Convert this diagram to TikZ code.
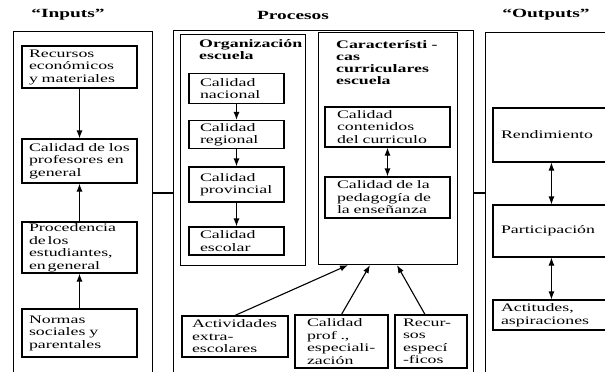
\documentclass[tikz,border=0pt]{standalone}
\usepackage{fontspec}
\setmainfont[FakeStretch=1.55]{Liberation Serif}
\usetikzlibrary{arrows.meta}
\begin{document}
\begin{tikzpicture}[x=1pt, y=-1pt,
    caja/.style = {draw, line width=1.1pt, align=left, inner xsep=1pt, inner ysep=1pt,
                   font=\fontsize{11.5}{12.5}\selectfont},
    marco/.style = {draw, line width=1.1pt, anchor=north west, inner sep=0pt},
    titulo/.style = {font=\bfseries\fontsize{12.5}{14}\selectfont},
    subtitulo/.style = {font=\bfseries\fontsize{11.5}{12}\selectfont, align=left,
                        anchor=north west, inner sep=0pt},
    flecha/.style = {-{Latex[length=8pt,width=6pt]}, line width=1.1pt},
    doble/.style = {{Latex[length=8pt,width=6pt]}-{Latex[length=8pt,width=6pt]}, line width=1.1pt}]

  \useasboundingbox (0,0) rectangle (605,372);
  \clip (0,0) rectangle (605,372);

  % titulos
  \node [titulo] (tin)   at (68,15)  {“Inputs”};
  \node [titulo] (tproc) at (293,15) {Procesos};
  \node [titulo] (tout)  at (546,15) {“Outputs”};

  % marcos grandes
  \node [marco, minimum width=139, minimum height=360] (inputs)   at (13,31)  {};
  \node [marco, minimum width=300, minimum height=360] (procesos) at (173,30) {};
  \node [marco, minimum width=150, minimum height=360] (outputs)  at (485,32) {};

  \coordinate (medio) at (0,193);
  \draw [line width=1.1pt] (inputs.east |- medio) -- (procesos.west |- medio);
  \draw [line width=1.1pt] (procesos.east |- medio) -- (outputs.west |- medio);

  % inputs
  \node [caja, minimum width=115, minimum height=42, text width=101pt] (recursos) at (79.5,67)
        {Recursos\\económicos\\y materiales};
  \node [caja, minimum width=115, minimum height=44, text width=101pt] (calprof) at (79.5,161)
        {Calidad de los\\profesores en\\general};
  \node [caja, minimum width=115, minimum height=51, text width=101pt] (procedencia) at (79.5,247.5)
        {Procedencia\\de\,los\\estudiantes,\\en\,general};
  \node [caja, minimum width=115, minimum height=48, text width=101pt] (normas) at (79.5,333)
        {Normas\\sociales y\\parentales};

  \draw [flecha] (recursos) -- (calprof);
  \draw [flecha] (procedencia) -- (calprof);
  \draw [flecha] (normas) -- (procedencia);

  % procesos: organizacion
  \node [marco, minimum width=125, minimum height=231] (orgbox) at (180,34) {};
  \node [subtitulo] (orgtit) at (199,39) {Organización\\escuela};
  \node [caja, minimum width=95, minimum height=30, text width=73pt] (nacional) at (236.5,88.5)
        {Calidad\\nacional};
  \node [caja, minimum width=95, minimum height=28, text width=73pt] (regional) at (236.5,134.5)
        {Calidad\\regional};
  \node [caja, minimum width=95, minimum height=35, text width=73pt] (provincial) at (236.5,184.5)
        {Calidad\\provincial};
  \node [caja, minimum width=95, minimum height=28, text width=73pt] (escolar) at (236.5,241)
        {Calidad\\escolar};

  \draw [flecha] (nacional) -- (regional);
  \draw [flecha] (regional) -- (provincial);
  \draw [flecha] (provincial) -- (escolar);

  % procesos: caracteristicas curriculares
  \node [marco, minimum width=139, minimum height=232] (carbox) at (318,32) {};
  \node [subtitulo] (cartit) at (336,40) {Característi -\\cas\\curriculares\\escuela};
  \node [caja, minimum width=125, minimum height=40, text width=101pt] (contenidos) at (387.5,127)
        {Calidad\\contenidos\\del curriculo};
  \node [caja, minimum width=125, minimum height=41, text width=101pt] (pedagogia) at (387.5,197.5)
        {Calidad de la\\pedagogía de\\la enseñanza};

  \draw [doble] (contenidos) -- (pedagogia);

  % procesos: recursos abajo
  \node [caja, minimum width=106, minimum height=41, text width=86pt] (actividades) at (235,336.5)
        {Actividades\\extra-\\escolares};
  \node [caja, minimum width=93, minimum height=53, text width=69pt] (calprof2) at (341.5,341.5)
        {Calidad\\prof .,\\especiali-\\zación};
  \node [caja, minimum width=72, minimum height=53, text width=56pt] (recesp) at (431,341.5)
        {Recur-\\sos\\especí\\-ficos};

  \draw [flecha] (actividades.north) -- ([xshift=30pt]carbox.south west);
  \draw [flecha] (calprof2.north) -- ([xshift=52pt]carbox.south west);
  \draw [flecha] ([xshift=-6pt]recesp.north) -- ([xshift=79pt]carbox.south west);

  % outputs
  \node [caja, minimum width=147, minimum height=54, text width=131pt] (rendimiento) at (566.5,135)
        {Rendimiento};
  \node [caja, minimum width=147, minimum height=52, text width=131pt] (participacion) at (566.5,231)
        {Participación};
  \node [caja, minimum width=147, minimum height=30, text width=131pt] (actitudes) at (566.5,315)
        {Actitudes,\\aspiraciones};

  \draw [doble] ([xshift=59pt]rendimiento.south west) -- ([xshift=59pt]participacion.north west);
  \draw [doble] ([xshift=59pt]participacion.south west) -- ([xshift=59pt]actitudes.north west);

\end{tikzpicture}
\end{document}
